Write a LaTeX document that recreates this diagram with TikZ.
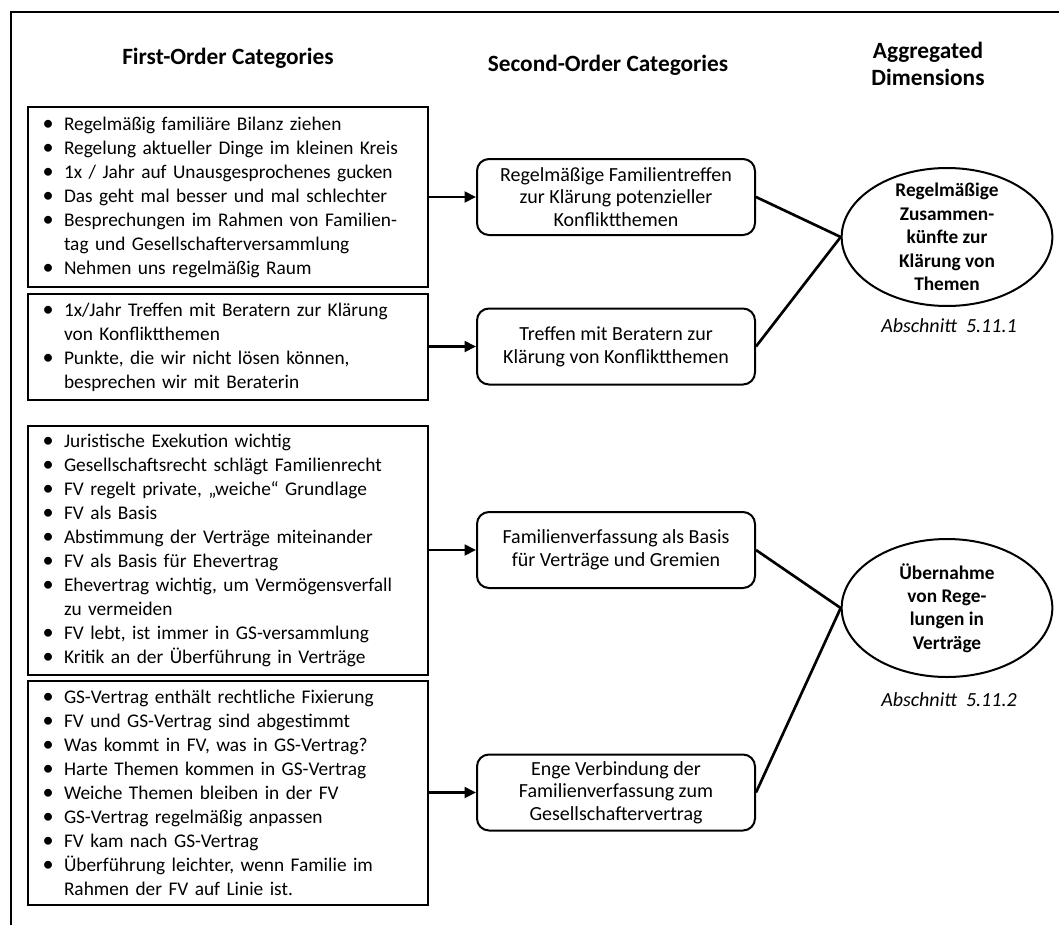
\documentclass[tikz,border=0pt]{standalone}
\usepackage{fontspec}
\setmainfont{Carlito}
\usetikzlibrary{arrows.meta,shapes.geometric}

% bullet marker with a fixed-width gap before the item text
\newcommand{\bul}{\makebox[16.5pt][l]{\hspace{0.5pt}\scalebox{1.15}{\textbullet}}}
\newcommand{\cont}{\hspace*{16.5pt}}

\begin{document}
\begin{tikzpicture}[x=0.75pt,y=-0.75pt,
  every node/.style={font=\fontsize{15}{18}\selectfont},
  header/.style={font=\bfseries\fontsize{17.5}{20.25}\selectfont, align=center},
  firstbox/.style={draw, line width=1.5pt, rectangle, anchor=north west,
    text width=279pt, inner xsep=10.5pt, inner ysep=0pt, align=left,
    font=\fontsize{14.5}{18}\selectfont},
  secondbox/.style={draw, line width=1.5pt, rectangle, rounded corners=9pt,
    minimum width=208.5pt, minimum height=57pt, align=center,
    font=\fontsize{15}{17}\selectfont},
  dimension/.style={draw, line width=1.5pt, ellipse, minimum width=158pt,
    minimum height=103.5pt, inner xsep=0pt, inner ysep=-14pt, align=center,
    font=\bfseries\fontsize{14.5}{17.6}\selectfont},
  section/.style={font=\itshape\fontsize{15}{18}\selectfont},
  feed/.style={line width=2pt, -{Triangle[length=8.5pt,width=8pt]}},
  link/.style={line width=2pt}
]
\useasboundingbox (0,0) rectangle (1059,924);

% outer frame (open to the right and bottom)
\draw[line width=1.5pt] (11,930) -- (11,12) -- (1065,12);

% column headers
\node[header] (h1) at (228,58) {First-Order Categories};
\node[header] (h2) at (608,65) {Second-Order Categories};
\node[header] (h3) at (928,63.5) {Aggregated\\Dimensions};

% first-order categories
\node[firstbox, minimum height=135pt] (f1) at (27,106) {%
\bul Regelmäßig familiäre Bilanz ziehen\\
\bul Regelung aktueller Dinge im kleinen Kreis\\
\bul 1x / Jahr auf Unausgesprochenes gucken\\
\bul Das geht mal besser und mal schlechter\\
\bul Besprechungen im Rahmen von Familien-\\
\cont tag und Gesellschafterversammlung\\
\bul Nehmen uns regelmäßig Raum};

\node[firstbox, minimum height=79.5pt] (f2) at (27,293) {%
\bul 1x/Jahr Treffen mit Beratern zur Klärung\\
\cont von Konfliktthemen\\
\bul Punkte, die wir nicht lösen können,\\
\cont besprechen wir mit Beraterin};

\node[firstbox, minimum height=186.75pt] (f3) at (27,425) {%
\bul Juristische Exekution wichtig\\
\bul Gesellschaftsrecht schlägt Familienrecht\\
\bul FV regelt private, „weiche“ Grundlage\\
\bul FV als Basis\\
\bul Abstimmung der Verträge miteinander\\
\bul FV als Basis für Ehevertrag\\
\bul Ehevertrag wichtig, um Vermögensverfall\\
\cont zu vermeiden\\
\bul FV lebt, ist immer in GS-versammlung\\
\bul Kritik an der Überführung in Verträge};

\node[firstbox, minimum height=168pt] (f4) at (27,680) {%
\bul GS-Vertrag enthält rechtliche Fixierung\\
\bul FV und GS-Vertrag sind abgestimmt\\
\bul Was kommt in FV, was in GS-Vertrag?\\
\bul Harte Themen kommen in GS-Vertrag\\
\bul Weiche Themen bleiben in der FV\\
\bul GS-Vertrag regelmäßig anpassen\\
\bul FV kam nach GS-Vertrag\\
\bul Überführung leichter, wenn Familie im\\
\cont Rahmen der FV auf Linie ist.};

% second-order categories
\node[secondbox] (s1) at (616,197) {Regelmäßige Familientreffen\\zur Klärung potenzieller\\Konfliktthemen};
\node[secondbox] (s2) at (616,346.5) {Treffen mit Beratern zur\\Klärung von Konfliktthemen};
\node[secondbox] (s3) at (616,550) {Familienverfassung als Basis\\für Verträge und Gremien};
\node[secondbox] (s4) at (616,792.5) {Enge Verbindung der\\Familienverfassung zum\\Gesellschaftervertrag};

% aggregated dimensions
\node[dimension] (d1) at (947,237) {Regelmäßige\\Zusammen-\\künfte zur\\Klärung von\\Themen};
\node[dimension] (d2) at (947,608) {Übernahme\\von Rege-\\lungen in\\Verträge};
\node[section] (a1) at (949,326) {Abschnitt\ \ 5.11.1};
\node[section] (a2) at (949,700) {Abschnitt\ \ 5.11.2};

% connectors
\draw[feed] (f1.east |- s1.west) -- (s1.west);
\draw[feed] (f2.east |- s2.west) -- (s2.west);
\draw[feed] (f3.east |- s3.west) -- (s3.west);
\draw[feed] (f4.east |- s4.west) -- (s4.west);
\draw[link] (s1.east) -- (d1.west);
\draw[link] (s2.east) -- (d1.west);
\draw[link] (s3.east) -- (d2.west);
\draw[link] (s4.east) -- (d2.west);
\end{tikzpicture}
\end{document}
